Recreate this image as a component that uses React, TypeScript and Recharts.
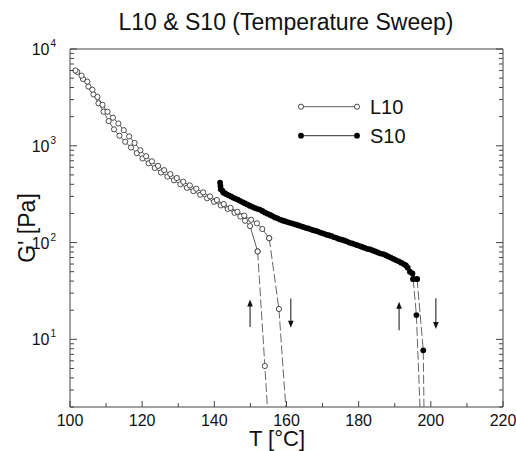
import React from 'react';
import { LineChart, Line, XAxis, YAxis, ReferenceLine } from 'recharts';

const tempTicks = [100, 110, 120, 130, 140, 150, 160, 170, 180, 190, 200, 210, 220];
const tempLabels = [100, 120, 140, 160, 180, 200, 220];
const gTicks = [
  2, 3, 4, 5, 6, 7, 8, 9,
  10, 20, 30, 40, 50, 60, 70, 80, 90,
  100, 200, 300, 400, 500, 600, 700, 800, 900,
  1000, 2000, 3000, 4000, 5000, 6000, 7000, 8000, 9000,
  10000,
];
const gDecades = [10, 100, 1000, 10000];

// L10 heating run (right drop)
const l10HeatT = [101.5, 103.2, 104.8, 106.2, 107.6, 109.0, 110.4, 111.9, 113.4, 114.9, 116.4, 117.9, 119.5, 121.1, 122.7, 124.4, 126.1, 127.8, 129.6, 131.4, 133.2, 135.0, 136.9, 138.8, 140.7, 142.6, 144.5, 146.4, 148.3, 150.2, 151.8, 153.3, 155.2];
const l10HeatG = [6000, 5300, 4600, 3800, 3200, 2650, 2250, 1950, 1700, 1450, 1250, 1070, 900, 780, 690, 620, 560, 510, 465, 425, 390, 360, 330, 300, 275, 250, 228, 208, 190, 172, 158, 138, 111];
const l10HeatDropT = [155.2, 157.9, 159.8];
const l10HeatDropG = [111, 20.6, 2];

// L10 cooling run (left drop)
const l10CoolT = [102.0, 103.6, 105.1, 106.5, 107.9, 109.3, 110.7, 112.2, 113.7, 115.3, 116.9, 118.5, 120.1, 121.8, 123.5, 125.2, 127.0, 128.8, 130.6, 132.4, 134.2, 136.1, 138.0, 139.9, 141.8, 143.7, 145.6, 147.2, 148.5, 149.9, 152.0];
const l10CoolG = [5800, 4900, 4100, 3400, 2750, 2250, 1800, 1480, 1270, 1100, 960, 840, 740, 660, 590, 530, 480, 440, 400, 368, 340, 312, 287, 264, 242, 222, 203, 186, 168, 148, 81];
const l10CoolDropT = [152.0, 154.0, 154.7];
const l10CoolDropG = [81, 5.3, 2];

// S10 heating run
const s10HeatT = [141.6, 141.7, 141.8, 142.5, 143.4, 144.6, 145.8, 147.1, 148.4, 149.8, 151.2, 152.6, 154.0, 155.5, 156.8, 158.2, 159.6, 161.0, 162.5, 163.9, 165.3, 166.7, 168.2, 169.6, 171.0, 172.4, 173.8, 175.3, 176.7, 178.2, 179.6, 181.0, 182.5, 183.9, 185.3, 186.8, 188.2, 189.6, 191.1, 192.5, 193.6, 194.9, 196.2];
const s10HeatG = [415, 385, 355, 330, 315, 300, 285, 270, 255, 240, 228, 219, 205, 193, 182, 173, 166, 160, 154, 148, 142, 137, 132, 126, 121, 117, 112, 107, 103, 98, 94, 90, 86, 83, 79, 76, 72, 68, 64, 60, 55, 48, 42];
const s10HeatDropT = [196.2, 197.9, 198.1];
const s10HeatDropG = [42, 7.7, 2];

// S10 cooling run
const s10CoolT = [142.2, 143.0, 144.0, 145.2, 146.5, 147.8, 149.1, 150.5, 151.9, 153.3, 154.7, 156.1, 157.5, 158.9, 160.3, 161.7, 163.2, 164.6, 166.0, 167.4, 168.9, 170.3, 171.7, 173.1, 174.5, 176.0, 177.4, 178.9, 180.3, 181.7, 183.2, 184.6, 186.0, 187.5, 188.9, 190.3, 191.8, 193.1, 194.2, 195.1];
const s10CoolG = [345, 322, 308, 292, 278, 262, 248, 234, 223, 212, 199, 188, 178, 169, 163, 157, 151, 145, 140, 134, 129, 124, 119, 114, 109, 105, 100, 96, 92, 88, 85, 81, 77, 74, 70, 66, 62, 58, 50, 42];
const s10CoolDropT = [195.1, 196.0, 197.0];
const s10CoolDropG = [42, 17.8, 2];

// sweep direction arrows: [T, G start, G end]
const arrows = [
  [149.9, 13.4, 25.8],
  [161.2, 26.4, 13.2],
  [191.2, 12.4, 24.5],
  [201.4, 26.6, 12.8],
];

const FONT = '"Liberation Sans", Arial, Helvetica, sans-serif';
const AXIS = '#444';
const G_MIN = 2;

const rows = (ts: number[], gs: number[]) => ts.map((T, i) => ({ T, G: gs[i] }));

const openDot = (p: any) =>
  p.payload.G <= G_MIN ? (
    <g key={`o-${p.index}`} />
  ) : (
    <circle key={`o-${p.index}`} cx={p.cx} cy={p.cy} r={2.6} fill="#fff" stroke="#222" strokeWidth={0.8} />
  );

const filledDot = (p: any) =>
  p.payload.G <= G_MIN ? (
    <g key={`f-${p.index}`} />
  ) : (
    <circle key={`f-${p.index}`} cx={p.cx} cy={p.cy} r={2.9} fill="#000" stroke="none" />
  );

const BottomTick = (props: any) => {
  const { x, y, payload } = props;
  const major = tempLabels.includes(payload.value);
  return (
    <g>
      <line x1={x} y1={y} x2={x} y2={y - (major ? 6 : 4)} stroke={AXIS} />
      {major && (
        <text x={x} y={y + 19} textAnchor="middle" fontSize={16} fontFamily={FONT} fill="#111">
          {payload.value}
        </text>
      )}
    </g>
  );
};

const TopTick = (props: any) => {
  const { x, y, payload } = props;
  const major = tempLabels.includes(payload.value);
  return <line x1={x} y1={y} x2={x} y2={y + (major ? 6 : 4)} stroke={AXIS} />;
};

const LeftTick = (props: any) => {
  const { x, y, payload } = props;
  const v = payload.value;
  const major = gDecades.includes(v);
  return (
    <g>
      <line x1={x} y1={y} x2={x + (major ? 7 : 4)} y2={y} stroke={AXIS} />
      {major && (
        <text x={x - 14} y={y + 6} textAnchor="end" fontSize={16} fontFamily={FONT} fill="#111">
          10
          <tspan dx={1} dy={-8} fontSize={10}>{Math.round(Math.log10(v))}</tspan>
        </text>
      )}
    </g>
  );
};

const RightTick = (props: any) => {
  const { x, y, payload } = props;
  const major = gDecades.includes(payload.value);
  return <line x1={x} y1={y} x2={x - (major ? 7 : 4)} y2={y} stroke={AXIS} />;
};

const Arrow = (props: any) => {
  const { x1, y1, x2, y2 } = props;
  if (x1 == null || y1 == null) return <g />;
  const dir = y2 < y1 ? -1 : 1;
  return (
    <g>
      <line x1={x1} y1={y1} x2={x2} y2={y2 - dir * 6} stroke="#111" strokeWidth={1} />
      <path d={`M${x2},${y2} L${x2 - 2.8},${y2 - dir * 7} L${x2 + 2.8},${y2 - dir * 7} Z`} fill="#111" />
    </g>
  );
};

export default function App() {
  return (
    <div style={{ position: 'absolute', left: 0, top: 0, width: 516, height: 451, background: '#fff' }}>
      <LineChart
        width={516}
        height={451}
        margin={{ top: 19, right: 3, bottom: 14, left: 10 }}
      >
        <XAxis
          xAxisId={0}
          dataKey="T"
          type="number"
          domain={[100, 220]}
          ticks={tempTicks}
          interval={0}
          height={30}
          tickSize={0}
          tickMargin={0}
          tick={<BottomTick />}
          axisLine={{ stroke: AXIS }}
          allowDataOverflow
        />
        <XAxis
          xAxisId="top"
          orientation="top"
          type="number"
          domain={[100, 220]}
          ticks={tempTicks}
          interval={0}
          height={30}
          tickSize={0}
          tickMargin={0}
          tick={<TopTick />}
          axisLine={{ stroke: AXIS }}
          allowDataOverflow
        />
        <YAxis
          yAxisId={0}
          type="number"
          scale="log"
          domain={[G_MIN, 10000]}
          ticks={gTicks}
          interval={0}
          width={60}
          tickSize={0}
          tickMargin={0}
          tick={<LeftTick />}
          axisLine={{ stroke: AXIS }}
          allowDataOverflow
        />
        <YAxis
          yAxisId="right"
          orientation="right"
          type="number"
          scale="log"
          domain={[G_MIN, 10000]}
          ticks={gTicks}
          interval={0}
          width={10}
          tickSize={0}
          tickMargin={0}
          tick={<RightTick />}
          axisLine={{ stroke: AXIS }}
          allowDataOverflow
        />

        <Line data={rows(l10CoolDropT, l10CoolDropG)} dataKey="G" stroke="#555" strokeWidth={0.9} strokeDasharray="9 3" dot={openDot} isAnimationActive={false} />
        <Line data={rows(l10HeatDropT, l10HeatDropG)} dataKey="G" stroke="#555" strokeWidth={0.9} strokeDasharray="9 3" dot={openDot} isAnimationActive={false} />
        <Line data={rows(l10CoolT, l10CoolG)} dataKey="G" stroke="#333" strokeWidth={0.8} dot={openDot} isAnimationActive={false} />
        <Line data={rows(l10HeatT, l10HeatG)} dataKey="G" stroke="#333" strokeWidth={0.8} dot={openDot} isAnimationActive={false} />

        <Line data={rows(s10CoolDropT, s10CoolDropG)} dataKey="G" stroke="#666" strokeWidth={1} strokeDasharray="9 3" dot={filledDot} isAnimationActive={false} />
        <Line data={rows(s10HeatDropT, s10HeatDropG)} dataKey="G" stroke="#666" strokeWidth={1} strokeDasharray="9 3" dot={filledDot} isAnimationActive={false} />
        <Line data={rows(s10CoolT, s10CoolG)} dataKey="G" stroke="#333" strokeWidth={1} dot={filledDot} isAnimationActive={false} />
        <Line data={rows(s10HeatT, s10HeatG)} dataKey="G" stroke="#333" strokeWidth={1} dot={filledDot} isAnimationActive={false} />

        {arrows.map(([t, g1, g2], i) => (
          <ReferenceLine
            key={`arrow-${i}`}
            segment={[{ x: t, y: g1 }, { x: t, y: g2 }]}
            shape={<Arrow />}
          />
        ))}
      </LineChart>

      <svg
        width={516}
        height={451}
        style={{ position: 'absolute', left: 0, top: 0, pointerEvents: 'none' }}
        fontFamily={FONT}
      >
        <text x={286} y={30} textAnchor="middle" fontSize={23} fill="#111">
          L10 &amp; S10 (Temperature Sweep)
        </text>
        <text
          transform="translate(27,228) rotate(-90)"
          textAnchor="middle"
          dy="0.35em"
          fontSize={23}
          fill="#111"
        >
          G' [Pa]
        </text>
        <text x={277} y={446} textAnchor="middle" fontSize={22} fill="#111">
          T [°C]
        </text>

        <line x1={301} y1={106.7} x2={357} y2={106.7} stroke="#333" strokeWidth={0.8} />
        <circle cx={301} cy={106.7} r={2.6} fill="#fff" stroke="#222" strokeWidth={0.8} />
        <circle cx={357} cy={106.7} r={2.6} fill="#fff" stroke="#222" strokeWidth={0.8} />
        <text x={370} y={114} fontSize={20} fill="#111">L10</text>

        <line x1={301} y1={135.7} x2={357} y2={135.7} stroke="#333" strokeWidth={1} />
        <circle cx={301} cy={135.7} r={2.9} fill="#000" />
        <circle cx={357} cy={135.7} r={2.9} fill="#000" />
        <text x={370} y={143} fontSize={20} fill="#111">S10</text>
      </svg>
    </div>
  );
}
